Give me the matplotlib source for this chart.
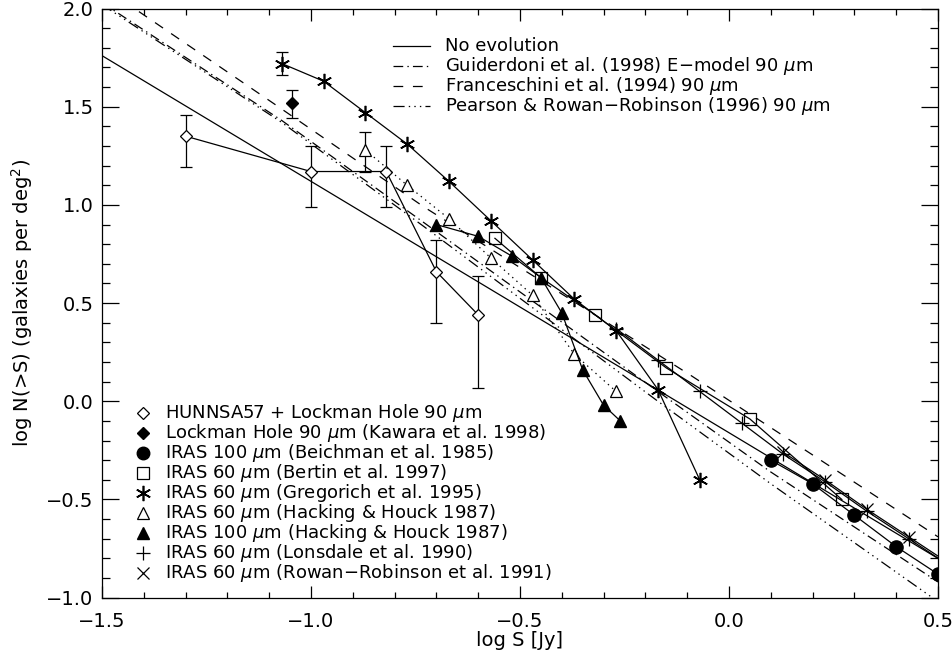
import matplotlib
matplotlib.use('Agg')
import matplotlib.pyplot as plt
from matplotlib.ticker import MultipleLocator, FuncFormatter

plt.rcParams['font.family'] = ['DejaVu Sans']
plt.rcParams['mathtext.fontset'] = 'dejavusans'
plt.rcParams['lines.scale_dashes'] = False

# ---------------- data ----------------
# model curves
noevo_x = [-1.5, 0.5]
noevo_y = [1.76, -0.80]
guid_x = [-1.5, -1.07, -0.73, -0.17, 0.10, 0.5]
guid_y = [2.03, 1.43, 0.91, 0.05, -0.36, -0.92]
fran_x = [-1.45, -1.085, -0.73, -0.09, 0.5]
fran_y = [2.04, 1.51, 0.99, 0.13, -0.69]
pear_x = [-1.5, -1.07, -0.73, -0.17, 0.10, 0.5]
pear_y = [2.02, 1.42, 0.89, 0.00, -0.42, -1.02]

# HUNNSA57 + Lockman Hole 90 um
hun_x = [-1.30, -1.00, -0.82, -0.70, -0.60]
hun_y = [1.35, 1.17, 1.17, 0.66, 0.44]
hun_elo = [0.155, 0.18, 0.18, 0.26, 0.37]
hun_ehi = [0.11, 0.13, 0.13, 0.16, 0.20]

# Lockman Hole 90 um (Kawara et al. 1998)
kaw_x = [-1.045]
kaw_y = [1.52]
kaw_elo = [0.08]
kaw_ehi = [0.065]

# IRAS 100 um (Beichman et al. 1985)
bei_x = [0.10, 0.20, 0.30, 0.40, 0.50]
bei_y = [-0.30, -0.42, -0.58, -0.74, -0.88]

# IRAS 60 um (Bertin et al. 1997)
ber_x = [-0.56, -0.45, -0.32, -0.15, 0.05, 0.27]
ber_y = [0.83, 0.63, 0.44, 0.17, -0.09, -0.50]

# IRAS 60 um (Gregorich et al. 1995)
gre_x = [-1.07, -0.97, -0.87, -0.77, -0.67, -0.57, -0.47, -0.37, -0.27, -0.17, -0.07]
gre_y = [1.72, 1.63, 1.47, 1.31, 1.12, 0.92, 0.72, 0.52, 0.36, 0.06, -0.40]
gre_err = 0.06

# IRAS 60 um (Hacking & Houck 1987)
h60_x = [-0.87, -0.77, -0.67, -0.57, -0.47, -0.37, -0.27]
h60_y = [1.28, 1.10, 0.93, 0.73, 0.54, 0.24, 0.05]
h60_elo, h60_ehi = 0.11, 0.09

# IRAS 100 um (Hacking & Houck 1987)
h100_x = [-0.70, -0.60, -0.52, -0.45, -0.40, -0.35, -0.30, -0.26]
h100_y = [0.90, 0.84, 0.74, 0.63, 0.45, 0.16, -0.02, -0.10]

# IRAS 60 um (Lonsdale et al. 1990)
lon_x = [-0.27, -0.17, -0.07, 0.03, 0.13, 0.23, 0.33, 0.43, 0.53]
lon_y = [0.37, 0.21, 0.05, -0.11, -0.27, -0.41, -0.56, -0.70, -0.84]

# IRAS 60 um (Rowan-Robinson et al. 1991)
rr_x = [0.13, 0.23, 0.33, 0.43, 0.53]
rr_y = [-0.26, -0.40, -0.55, -0.69, -0.83]

xticks = [-1.5, -1.0, -0.5, 0.0, 0.5]
yticks = [-1.0, -0.5, 0.0, 0.5, 1.0, 1.5, 2.0]

model_labels = ['No evolution',
                r'Guiderdoni et al. (1998) E$-$model 90 $\mu$m',
                r'Franceschini et al. (1994) 90 $\mu$m',
                r'Pearson & Rowan$-$Robinson (1996) 90 $\mu$m']
data_labels = [r'HUNNSA57 + Lockman Hole 90 $\mu$m',
               r'Lockman Hole 90 $\mu$m (Kawara et al. 1998)',
               r'IRAS 100 $\mu$m (Beichman et al. 1985)',
               r'IRAS 60 $\mu$m (Bertin et al. 1997)',
               r'IRAS 60 $\mu$m (Gregorich et al. 1995)',
               r'IRAS 60 $\mu$m (Hacking & Houck 1987)',
               r'IRAS 100 $\mu$m (Hacking & Houck 1987)',
               r'IRAS 60 $\mu$m (Lonsdale et al. 1990)',
               r'IRAS 60 $\mu$m (Rowan$-$Robinson et al. 1991)']

# ---------------- styles ----------------
K = 'black'
LW = 0.9
FS = 14
FSL = 13
ls_solid = '-'
ls_guid = (0, (7, 3, 1, 3))
ls_fran = (0, (7, 7))
ls_pear = (0, (8, 3, 1, 3, 1, 3, 1, 3))
star = (6, 2, 0)

fig = plt.figure(figsize=(9.53, 6.60), dpi=100)
ax = fig.add_axes([0.10703, 0.0944, 0.87723, 0.8927])

# models
ax.plot(noevo_x, noevo_y, color=K, lw=LW, ls=ls_solid)
ax.plot(guid_x, guid_y, color=K, lw=LW, ls=ls_guid)
ax.plot(fran_x, fran_y, color=K, lw=LW, ls=ls_fran)
ax.plot(pear_x, pear_y, color=K, lw=LW, ls=ls_pear)

# data
mk = dict(color=K, lw=LW)
ax.plot(hun_x, hun_y, **mk)
ax.errorbar(hun_x, hun_y, yerr=[hun_elo, hun_ehi], fmt='none', ecolor=K, elinewidth=LW, capsize=4.5, capthick=LW)
ax.plot(hun_x, hun_y, ls='none', marker='D', ms=6.6, mfc='white', mec=K, mew=LW)

ax.errorbar(kaw_x, kaw_y, yerr=[kaw_elo, kaw_ehi], fmt='none', ecolor=K, elinewidth=LW, capsize=4.5, capthick=LW)
ax.plot(kaw_x, kaw_y, ls='none', marker='D', ms=6.0, mfc=K, mec=K)

ax.plot(bei_x, bei_y, marker='o', ms=9.5, mfc=K, mec=K, **mk)
ax.plot(ber_x, ber_y, marker='s', ms=9.0, mfc='none', mec=K, mew=LW, **mk)
ax.plot(gre_x, gre_y, marker=star, ms=11, mec=K, mew=1.2, **mk)
ax.errorbar(gre_x[:1], gre_y[:1], yerr=gre_err, fmt='none', ecolor=K, elinewidth=LW, capsize=4.5, capthick=LW)
ax.errorbar(h60_x[:1], h60_y[:1], yerr=[[h60_elo], [h60_ehi]], fmt='none', ecolor=K, elinewidth=LW, capsize=4.5, capthick=LW)
ax.plot(h60_x, h60_y, ls=(0, (1, 3)), color=K, lw=LW)
ax.plot(h60_x, h60_y, ls='none', marker='^', ms=9, mfc='white', mec=K, mew=LW)
ax.plot(h100_x, h100_y, marker='^', ms=9, mfc=K, mec=K, **mk)
ax.plot(lon_x, lon_y, marker='+', ms=10, mew=LW, **mk)
ax.plot(rr_x, rr_y, marker='x', ms=8.5, mew=LW, **mk)

ax.set_xlim(-1.5, 0.5)
ax.set_ylim(-1.0, 2.0)
ax.set_xticks(xticks)
ax.set_yticks(yticks)
ax.xaxis.set_minor_locator(MultipleLocator(0.1))
ax.yaxis.set_minor_locator(MultipleLocator(0.1))
fmt = FuncFormatter(lambda v, p: f"{v:.1f}".replace('-', '\u2212'))
ax.xaxis.set_major_formatter(fmt)
ax.yaxis.set_major_formatter(fmt)
ax.tick_params(which='both', direction='in', top=True, right=True, labelsize=FS, width=0.9, color=K)
ax.tick_params(axis='x', which='major', length=8.5, pad=10)
ax.tick_params(axis='x', which='minor', length=4.25)
ax.tick_params(axis='y', which='major', length=12, pad=6)
ax.tick_params(axis='y', which='minor', length=6)
for s in ax.spines.values():
    s.set_linewidth(0.9)

ax.set_xlabel('log S [Jy]', fontsize=FS, labelpad=0)
ax.set_ylabel(r'log N(>S) (galaxies per deg$^2$)', fontsize=FS, labelpad=8)

# legend 1 (models)
styles = [ls_solid, ls_guid, ls_fran, ls_pear]
y0, dy = 0.936, 0.034
for i, (lab, st) in enumerate(zip(model_labels, styles)):
    yy = y0 - i * dy
    ax.plot([0.348, 0.392], [yy, yy], transform=ax.transAxes, color=K, lw=LW, ls=st)
    ax.text(0.410, yy, lab, transform=ax.transAxes, va='center', ha='left', fontsize=FSL)

# legend 2 (data)
markers = [dict(marker='D', ms=6.0, mfc='white', mec=K, mew=LW),
           dict(marker='D', ms=6.0, mfc=K, mec=K),
           dict(marker='o', ms=9.0, mfc=K, mec=K),
           dict(marker='s', ms=8.5, mfc='none', mec=K, mew=LW),
           dict(marker=star, ms=11, mec=K, mew=1.2),
           dict(marker='^', ms=9, mfc='white', mec=K, mew=LW),
           dict(marker='^', ms=9, mfc=K, mec=K),
           dict(marker='+', ms=10, mec=K, mew=LW),
           dict(marker='x', ms=8.5, mec=K, mew=LW)]
y0, dy = 0.3137, 0.034
for i, (lab, m) in enumerate(zip(data_labels, markers)):
    yy = y0 - i * dy
    ax.plot([0.049], [yy], transform=ax.transAxes, ls='none', color=K, **m)
    ax.text(0.075, yy, lab, transform=ax.transAxes, va='center', ha='left', fontsize=FSL)

fig.savefig('out.png', dpi=100)
